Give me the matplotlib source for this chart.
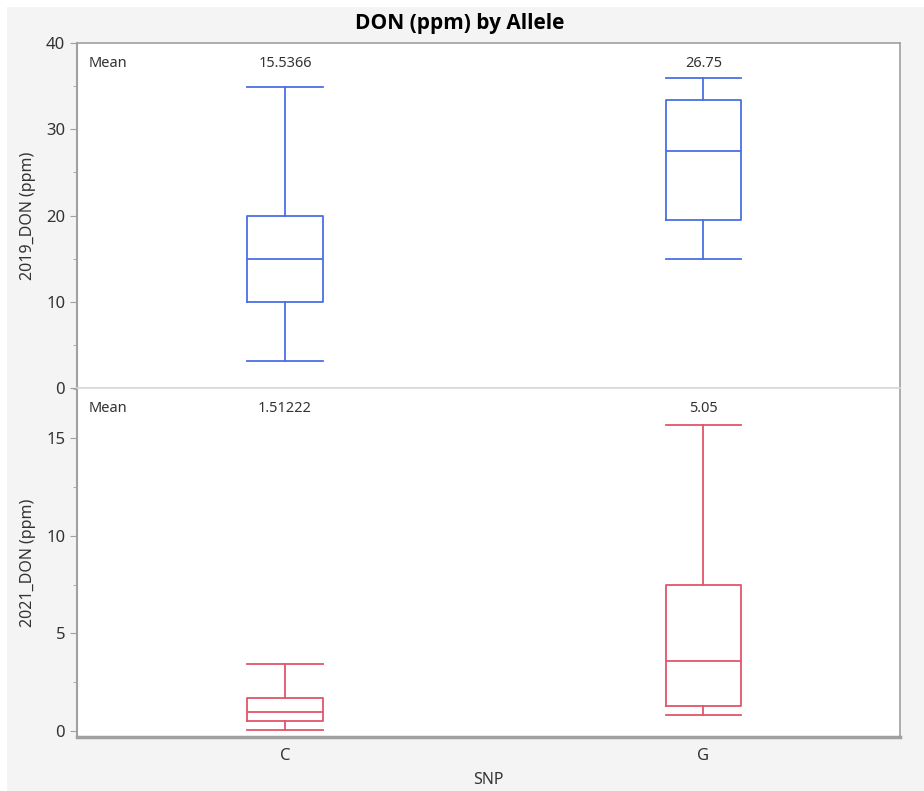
import matplotlib.pyplot as plt
from matplotlib.patches import Rectangle
from matplotlib.ticker import MultipleLocator

plt.rcParams['font.family'] = ['Noto Sans', 'DejaVu Sans']

categories = ['C', 'G']

# box stats: low whisker, Q1, median, Q3, high whisker
don_2019 = {
    'C': [3.1, 10.0, 15.0, 20.0, 34.9],
    'G': [15.0, 19.5, 27.5, 33.4, 35.9],
}
don_2021 = {
    'C': [0.05, 0.52, 1.0, 1.72, 3.44],
    'G': [0.85, 1.27, 3.6, 7.5, 15.7],
}
means_2019 = ['15.5366', '26.75']
means_2021 = ['1.51222', '5.05']

blue = '#4a6fe3'
red = '#e0566a'
frame = '#a0a0a0'

fig = plt.figure(figsize=(9.24, 7.91), dpi=100, facecolor='white')
fig.patches.append(Rectangle((7 / 924, 0), 1, 1 - 7 / 791, transform=fig.transFigure,
                             facecolor='#f4f4f4', edgecolor='none', zorder=-10))

left, right = 77 / 924, 900 / 924
ax1 = fig.add_axes([left, 1 - 388 / 791, right - left, (388 - 43) / 791])
ax2 = fig.add_axes([left, 1 - 737 / 791, right - left, (737 - 388) / 791])


def stats_from(d):
    out = []
    for c in categories:
        lo, q1, med, q3, hi = d[c]
        out.append(dict(whislo=lo, q1=q1, med=med, q3=q3, whishi=hi, fliers=[], label=c))
    return out


def draw(ax, d, color, means, ylabel, ylim, major, minor):
    pos = list(range(len(categories)))
    ax.bxp(stats_from(d), positions=pos, widths=0.18, showfliers=False,
           boxprops=dict(color=color, linewidth=1.3),
           medianprops=dict(color=color, linewidth=1.3),
           whiskerprops=dict(color=color, linewidth=1.3),
           capprops=dict(color=color, linewidth=1.3), capwidths=0.18)
    ax.set_xlim(-0.497, 1.47)
    ax.set_ylim(*ylim)
    ax.yaxis.set_major_locator(MultipleLocator(major))
    ax.yaxis.set_minor_locator(MultipleLocator(minor))
    ax.set_ylabel(ylabel, fontsize=11.5, color='#333333', labelpad=7)
    ax.tick_params(axis='y', labelsize=12, colors='#333333', length=5, color=frame)
    ax.tick_params(axis='y', which='minor', length=3, color=frame)
    for s in ax.spines.values():
        s.set_color(frame)
        s.set_linewidth(1.2)
    ax.spines['left'].set_linewidth(1.5)
    ytxt = ylim[1] - (ylim[1] - ylim[0]) * 0.058
    ax.text(-0.47, ytxt, 'Mean', fontsize=10.5, color='#333333', va='center', ha='left')
    for p, m in zip(pos, means):
        ax.text(p, ytxt, m, fontsize=10.5, color='#333333', va='center', ha='center')
    ax.set_facecolor('white')


draw(ax1, don_2019, blue, means_2019, '2019_DON (ppm)', (0, 40), 10, 5)
draw(ax2, don_2021, red, means_2021, '2021_DON (ppm)', (-0.3, 17.57), 5, 2.5)

ax1.tick_params(axis='x', bottom=False, labelbottom=False)
ax1.spines['bottom'].set_color('#d8d8d8')
ax2.spines['top'].set_color('#d8d8d8')
ax2.spines['bottom'].set_linewidth(2.5)
ax2.set_xticks(range(len(categories)))
ax2.set_xticklabels(categories)
ax2.tick_params(axis='x', labelsize=12, colors='#333333', length=0, pad=8)
ax2.set_xlabel('SNP', fontsize=11.5, color='#333333', labelpad=6)

fig.text(0.498, 1 - 23 / 791, 'DON (ppm) by Allele', fontsize=15, fontweight='bold',
         family=['Open Sans', 'DejaVu Sans'], ha='center', va='center', color='black')

fig.savefig('out.png', dpi=100, facecolor=fig.get_facecolor())
